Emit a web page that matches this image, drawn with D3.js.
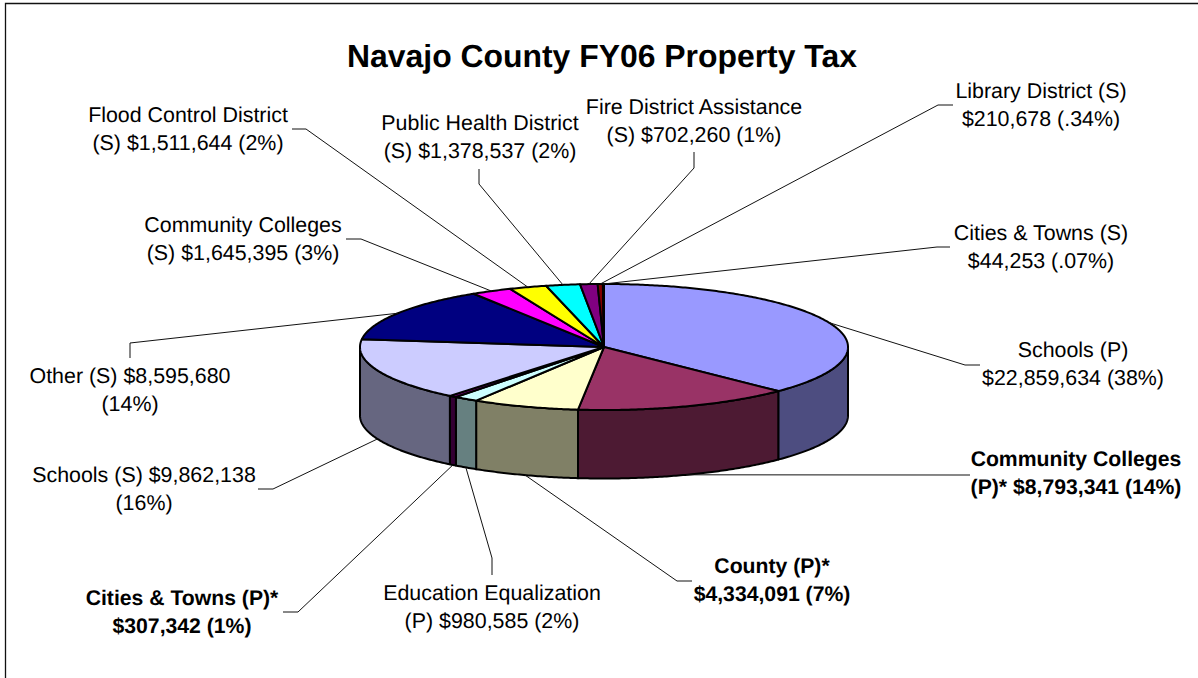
<!DOCTYPE html>
<html>
<head>
<meta charset="utf-8">
<script src="https://cdn.jsdelivr.net/npm/d3@7/dist/d3.min.js"></script>
<style>
html,body{margin:0;padding:0;background:#fff;overflow:hidden}
svg{display:block}
text{font-family:"Liberation Sans",Arial,sans-serif;fill:#000;text-rendering:geometricPrecision}
</style>
</head>
<body>
<svg id="chart" width="1198" height="678"></svg>
<script>
const title = "Navajo County FY06 Property Tax";
const categories = ["Schools (P)","Community Colleges (P)*","County (P)*","Education Equalization (P)","Cities & Towns (P)*","Schools (S)","Other (S)","Community Colleges (S)","Flood Control District (S)","Public Health District (S)","Fire District Assistance (S)","Library District (S)","Cities & Towns (S)"];
const values = [22859634,8793341,4334091,980585,307342,9862138,8595680,1645395,1511644,1378537,702260,210678,44253];
const labelLines = [
  ["Schools (P)","$22,859,634 (38%)"],
  ["Community Colleges","(P)* $8,793,341 (14%)"],
  ["County (P)*","$4,334,091 (7%)"],
  ["Education Equalization","(P) $980,585 (2%)"],
  ["Cities & Towns (P)*","$307,342 (1%)"],
  ["Schools (S) $9,862,138","(16%)"],
  ["Other (S) $8,595,680","(14%)"],
  ["Community Colleges","(S) $1,645,395 (3%)"],
  ["Flood Control District","(S) $1,511,644 (2%)"],
  ["Public Health District","(S) $1,378,537 (2%)"],
  ["Fire District Assistance","(S) $702,260 (1%)"],
  ["Library District (S)","$210,678 (.34%)"],
  ["Cities & Towns (S)","$44,253 (.07%)"]
];
const boldFlags = [false,true,true,false,true,false,false,false,false,false,false,false,false];
const topColors = ["#9999FF","#993366","#FFFFCC","#CCFFFF","#660066","#CCCCFF","#000080","#FF00FF","#FFFF00","#00FFFF","#800080","#800000","#008080"];
const sideColors = ["#4D4D80","#4D1A33","#808066","#668080","#330033","#666680","#000040","#800080","#808000","#008080","#400040","#400000","#004040"];

// Layout (label centre / baselines, leader elbow points)
const layout = [
  {x:1073,y:357,elbow:[[965,365],[980,365]]},
  {x:1076,y:466,elbow:[[952,475],[970,475]]},
  {x:772,y:573,elbow:[[677,581],[692,581]]},
  {x:492,y:600,elbow:[[492,558],[492,575]]},
  {x:182,y:605,elbow:[[298,612],[283,612]]},
  {x:144,y:482,elbow:[[273,489],[258,489]]},
  {x:130,y:383,elbow:[[130,343],[130,358]]},
  {x:243,y:232,elbow:[[361,239],[346,239]]},
  {x:188,y:122,elbow:[[306,129],[292,129]]},
  {x:480,y:130,elbow:[[479,184],[479,169]]},
  {x:694,y:114,elbow:[[694,168],[694,152]]},
  {x:1041,y:98,elbow:[[938,105],[953,105]]},
  {x:1041,y:240,elbow:[[937,247],[950,247]]}
];
const cx=604, cy=347, rx=244, ry=63, depth=68.5, lineGap=27.7;

const svg=d3.select("#chart");
const xS=d3.scaleLinear().domain([-1,1]).range([cx-rx,cx+rx]);
const yS=d3.scaleLinear().domain([-1,1]).range([cy-ry,cy+ry]);
const rim=a=>[xS(Math.sin(a)),yS(-Math.cos(a))];
const line=d3.line();
const arcPts=(a0,a1)=>{
  const n=Math.max(2,Math.ceil(Math.abs(a1-a0)/0.01));
  return d3.range(n+1).map(i=>rim(a0+(a1-a0)*i/n));
};
const pie=d3.pie().sort(null).value(d=>d).startAngle(0).endAngle(2*Math.PI);
const arcs=pie(values);

// frame: top and left edges only
svg.append("path").attr("d",line([[5.5,678],[5.5,3.5],[1198,3.5]]))
  .attr("fill","none").attr("stroke","#111").attr("stroke-width",1.3);

// side walls
const PI=Math.PI;
const walls=svg.append("g");
arcs.forEach((d,i)=>{
  const a0=Math.max(d.startAngle,PI/2), a1=Math.min(d.endAngle,3*PI/2);
  if(a1<=a0) return;
  const top=arcPts(a0,a1);
  const bottom=top.slice().reverse().map(p=>[p[0],p[1]+depth]);
  walls.append("path").attr("d",line(top.concat(bottom))+"Z")
    .attr("fill",sideColors[i]).attr("stroke","#000").attr("stroke-width",2).attr("stroke-linejoin","round");
});

// top slices
const tops=svg.append("g");
arcs.forEach((d,i)=>{
  tops.append("path").attr("d",line([[cx,cy]].concat(arcPts(d.startAngle,d.endAngle)))+"Z")
    .attr("fill",topColors[i]).attr("stroke","#000").attr("stroke-width",2).attr("stroke-linejoin","round");
});

// leaders
const leaders=svg.append("g");
arcs.forEach((d,i)=>{
  const m=(d.startAngle+d.endAngle)/2;
  const p=rim(m);
  const front=m>PI/2&&m<3*PI/2;
  const start=[p[0],p[1]+(front?depth:0)];
  leaders.append("path").attr("d",line([start].concat(layout[i].elbow)))
    .attr("fill","none").attr("stroke","#111").attr("stroke-width",1);
});

// labels
const labels=svg.append("g");
labelLines.forEach((ls,i)=>{
  ls.forEach((s,j)=>{
    labels.append("text").attr("x",layout[i].x).attr("y",layout[i].y+j*lineGap)
      .attr("text-anchor","middle").attr("font-size",boldFlags[i]?21.2:21.4)
      .attr("font-weight",boldFlags[i]?"bold":"normal").text(s);
  });
});
svg.append("text").attr("x",602).attr("y",67).attr("text-anchor","middle")
  .attr("font-size",31.9).attr("font-weight","bold").text(title);
</script>
</body>
</html>
